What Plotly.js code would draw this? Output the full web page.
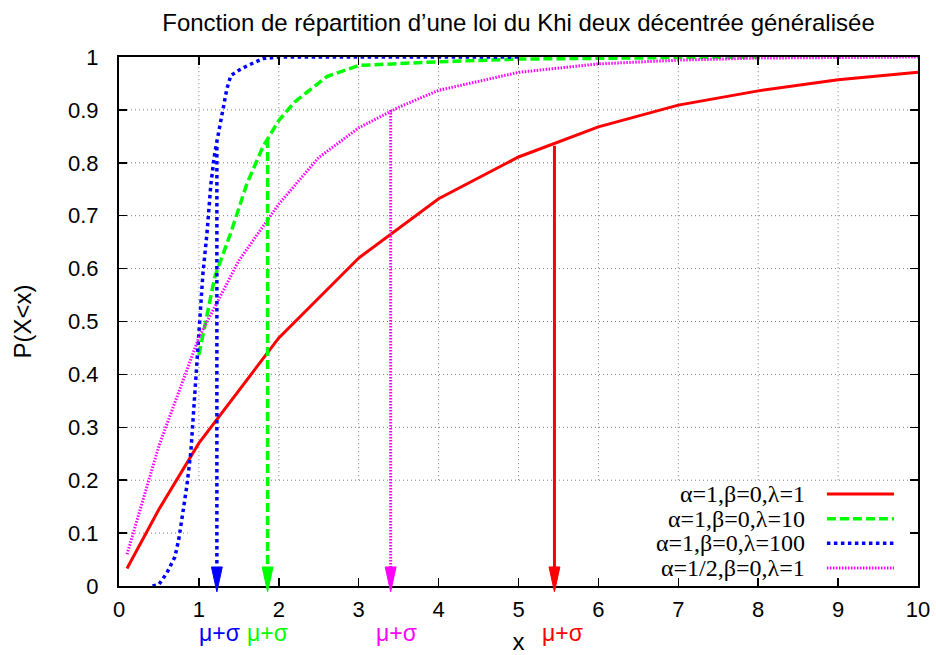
<!DOCTYPE html>
<html><head><meta charset="utf-8">
<script src="https://cdn.plot.ly/plotly-3.0.1.min.js"></script>
<style>html,body{margin:0;padding:0;background:#fff}</style>
</head><body><div id="chart" style="width:936px;height:655px"></div>
<script>
// ---- data ----
const seriesNames = ['α=1,β=0,λ=1', 'α=1,β=0,λ=10', 'α=1,β=0,λ=100', 'α=1/2,β=0,λ=1'];
const seriesColors = ['#ff0000', '#00ff00', '#0000ff', '#ff00ff'];

const xRed = [0.1, 0.5, 1, 2, 3, 4, 5, 6, 7, 8, 9, 10];
const yRed = [0.033, 0.145, 0.27, 0.469, 0.62, 0.732, 0.811, 0.868, 0.909, 0.936, 0.957, 0.971];

const xGreen = [1.0, 1.2, 1.4, 1.6, 1.8, 2.0, 2.2, 2.6, 3, 4, 5, 6, 7, 8];
const yGreen = [0.437, 0.585, 0.668, 0.76, 0.83, 0.88, 0.915, 0.963, 0.984, 0.991, 0.996, 0.998, 0.999, 1.0];

const xBlue = [0.42, 0.5, 0.6, 0.7, 0.75, 0.8, 0.85, 0.9, 0.95, 1.0, 1.05, 1.1, 1.15, 1.2, 1.25, 1.3, 1.35, 1.4, 1.5, 1.6, 1.8, 2, 3, 4, 5];
const yBlue = [0.0, 0.003, 0.025, 0.055, 0.09, 0.14, 0.19, 0.255, 0.37, 0.49, 0.59, 0.665, 0.76, 0.82, 0.862, 0.905, 0.94, 0.965, 0.975, 0.983, 0.997, 1, 1, 1, 1];

const xMagenta = [0.1, 0.5, 1, 1.5, 2, 2.5, 3, 3.5, 4, 5, 6, 7, 8, 9, 10];
const yMagenta = [0.06, 0.265, 0.47, 0.615, 0.722, 0.81, 0.866, 0.905, 0.937, 0.971, 0.987, 0.994, 0.998, 0.999, 1.0];

// mu+sigma markers (red, green, blue, magenta)
const arrowX = [5.45, 1.86, 1.225, 3.40];
const arrowTop = [0.832, 0.845, 0.83, 0.90];
const arrowLabel = 'μ+σ';

const xTickVals = [0, 1, 2, 3, 4, 5, 6, 7, 8, 9, 10];
const xTickText = ['0', '1', '2', '3', '4', '5', '6', '7', '8', '9', '10'];
const yTickVals = [0, 0.1, 0.2, 0.3, 0.4, 0.5, 0.6, 0.7, 0.8, 0.9, 1];
const yTickText = ['0', '0.1', '0.2', '0.3', '0.4', '0.5', '0.6', '0.7', '0.8', '0.9', '1'];

const titleText = 'Fonction de répartition d’une loi du Khi deux décentrée généralisée';
const xTitle = 'x';
const yTitle = 'P(X<x)';

// ---- styles ----
const dashes = ['solid', '9px,4px', '3.5px,3.5px', '1.5px,1.5px'];
const widths = [3, 3.5, 3.5, 3];
const labelShift = [8, 0, 3, 6];
const SANS = 'Liberation Sans, Arial, sans-serif';
const SERIF = 'Liberation Serif, Times New Roman, serif';

const xs = [xRed, xGreen, xBlue, xMagenta];
const ys = [yRed, yGreen, yBlue, yMagenta];

const traces = [];
for (let i = 0; i < 4; i++) {
  traces.push({
    x: xs[i], y: ys[i], type: 'scatter', mode: 'lines', name: seriesNames[i],
    line: {color: seriesColors[i], width: widths[i], dash: dashes[i]},
    hoverinfo: 'skip'
  });
}
// arrow shafts
for (let i = 0; i < 4; i++) {
  traces.push({
    x: [arrowX[i], arrowX[i]], y: [arrowTop[i], 0.02], type: 'scatter', mode: 'lines',
    showlegend: false, hoverinfo: 'skip',
    line: {color: seriesColors[i], width: widths[i], dash: dashes[i]}
  });
}

const shapes = [];
const gridStyle = {color: '#7a7a7a', width: 1, dash: '1px,3px'};
// vertical grid (stops at the key top)
xTickVals.slice(1, -1).forEach(v => shapes.push({type: 'line', xref: 'x', yref: 'y', x0: v, x1: v, y0: 0.2, y1: 1, line: gridStyle, layer: 'below'}));
// horizontal grid
yTickVals.slice(1, -1).forEach(v => {
  const x1 = v < 0.15 ? 0.86 : 10;
  shapes.push({type: 'line', xref: 'x', yref: 'y', x0: 0, x1: x1, y0: v, y1: v, line: gridStyle, layer: 'below'});
});
// arrow heads (x in data units, y in paper units so the tip may pass the axis)
const hw = 0.068, hTop = 0.036, tip = -0.011;
for (let i = 0; i < 4; i++) {
  const a = arrowX[i];
  shapes.push({type: 'path', xref: 'x', yref: 'paper',
    path: `M ${a - hw},${hTop} L ${a},${tip} L ${a + hw},${hTop} Z`,
    fillcolor: seriesColors[i], line: {color: seriesColors[i], width: 1}, layer: 'above'});
}
// key samples
const keyRows = [0.174, 0.127, 0.081, 0.034];
for (let i = 0; i < 4; i++) {
  shapes.push({type: 'line', xref: 'paper', yref: 'paper', x0: 0.886, x1: 0.97, y0: keyRows[i], y1: keyRows[i],
    line: {color: seriesColors[i], width: widths[i], dash: dashes[i]}});
}

const annotations = [];
for (let i = 0; i < 4; i++) {
  annotations.push({xref: 'paper', yref: 'paper', x: 0.861, y: keyRows[i], xanchor: 'right', yanchor: 'middle',
    text: seriesNames[i], showarrow: false, font: {family: SERIF, size: 24, color: '#000'}});
  annotations.push({xref: 'x', yref: 'paper', x: arrowX[i], y: -0.088, xanchor: 'center', yanchor: 'middle', xshift: labelShift[i],
    text: arrowLabel, showarrow: false, borderpad: 0, font: {family: SANS, size: 23, color: seriesColors[i]}});
}

const axisCommon = {
  showline: true, linecolor: '#000', linewidth: 2, mirror: 'ticks',
  ticks: 'inside', ticklen: 8, tickwidth: 1.5, tickcolor: '#000',
  showgrid: false, zeroline: false, fixedrange: true,
  tickfont: {family: SANS, size: 22, color: '#000'}
};

const layout = {
  width: 936, height: 655,
  margin: {l: 119, r: 18, t: 57, b: 69},
  paper_bgcolor: '#fff', plot_bgcolor: '#fff',
  showlegend: false,
  title: {text: titleText, font: {family: SANS, size: 24, color: '#000'}, xref: 'paper', x: 0.5, xanchor: 'center', yref: 'container', y: 0.966, yanchor: 'middle'},
  xaxis: Object.assign({}, axisCommon, {range: [0, 10], tickmode: 'array', tickvals: xTickVals, ticktext: xTickText, ticklabelstandoff: 3,
    title: {text: xTitle, font: {family: SANS, size: 24, color: '#000'}, standoff: 12}}),
  yaxis: Object.assign({}, axisCommon, {range: [0, 1], tickmode: 'array', tickvals: yTickVals, ticktext: yTickText, ticklabelstandoff: 14,
    title: {text: yTitle, font: {family: SANS, size: 24, color: '#000'}, standoff: 30}}),
  shapes: shapes,
  annotations: annotations
};

Plotly.newPlot('chart', traces, layout, {displayModeBar: false, staticPlot: true});
</script></body></html>
